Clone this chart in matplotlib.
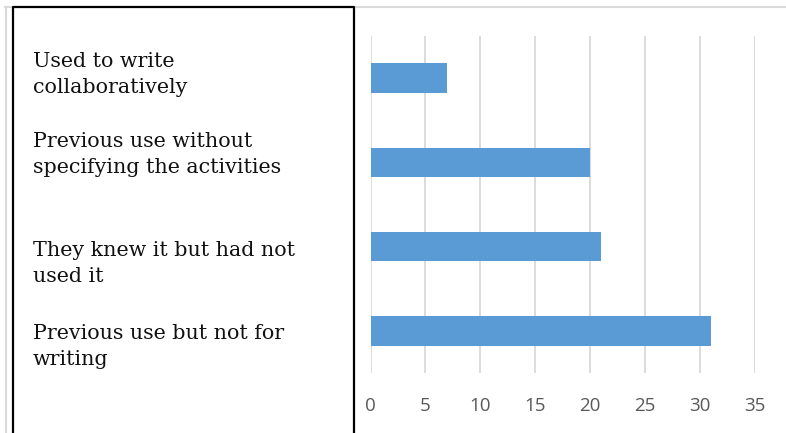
import matplotlib
matplotlib.use("Agg")
import matplotlib.pyplot as plt
from matplotlib.lines import Line2D

categories = [
    "Used to write\ncollaboratively",
    "Previous use without\nspecifying the activities",
    "They knew it but had not\nused it",
    "Previous use but not for\nwriting",
]
values = [7, 20, 21, 31]
xticks = [0, 5, 10, 15, 20, 25, 30, 35]

# last-line baselines of the left-hand labels, in pixels from top
label_baselines = [93, 173, 282, 365]

W, H = 786, 433
fig = plt.figure(figsize=(W / 100, H / 100), dpi=100)

# outer light frame and black box on the left
frame = dict(transform=fig.transFigure)
fig.add_artist(Line2D([5 / W, 1], [1 - 6.5 / H] * 2, color="#d9d9d9", lw=1.5, **frame))
fig.add_artist(Line2D([5.5 / W] * 2, [0, 1 - 6.5 / H], color="#d9d9d9", lw=1.5, **frame))
fig.add_artist(Line2D([12.5 / W, 12.5 / W, 353.5 / W, 353.5 / W],
                      [0, 1 - 7 / H, 1 - 7 / H, 0], color="black", lw=1.6, **frame))

for label, yb in zip(categories, label_baselines):
    fig.text(33 / W, 1 - yb / H, label, family="DejaVu Serif", fontsize=14.9,
             va="baseline", ha="left", linespacing=1.45, color="#111111")

# bar chart
ax = fig.add_axes([370.5 / W, 1 - 373 / H, 384.5 / W, 337 / H])
ypos = list(range(len(values)))
ax.barh(ypos, values, height=0.35, color="#5b9bd5", zorder=3)
ax.set_xlim(0, 35)
ax.set_ylim(len(values) - 0.5, -0.5)
ax.set_xticks(xticks)
ax.set_yticks([])
ax.grid(axis="x", color="#d9d9d9", lw=1.3, zorder=0)
for s in ax.spines.values():
    s.set_visible(False)
ax.tick_params(axis="x", length=0, pad=17, labelsize=13.5, labelcolor="#595959")
for t in ax.get_xticklabels():
    t.set_family("Open Sans")

fig.savefig("out.png", dpi=100)
